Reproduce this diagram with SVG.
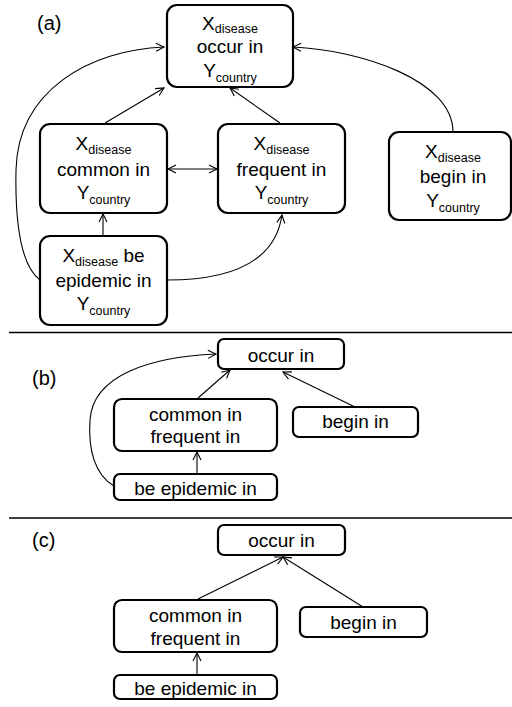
<svg xmlns="http://www.w3.org/2000/svg" width="512" height="707" viewBox="0 0 512 707">
<style>
text{font-family:"Liberation Sans",Arial,sans-serif;font-size:19px;fill:#000}
.sub{font-size:12.5px}
.lbl{font-size:20px}
.box{fill:#fff;stroke:#000;stroke-width:2.2}
.c{fill:none;stroke:#000;stroke-width:1.1}
.sep{stroke:#000;stroke-width:1.3}
</style>
<defs>
<marker id="ah" markerUnits="userSpaceOnUse" markerWidth="12" markerHeight="12" refX="9" refY="5" orient="auto-start-reverse" viewBox="0 0 12 10">
<path d="M1,1 L9,5 L1,9" fill="none" stroke="#000" stroke-width="1.1"/>
</marker>
</defs>
<rect width="512" height="707" fill="#fff"/>
<text class="lbl" x="37" y="30">(a)</text>
<text class="lbl" x="32" y="385">(b)</text>
<text class="lbl" x="32" y="547">(c)</text>
<g id="separators">
<line class="sep" x1="9" y1="332.5" x2="512" y2="332.5"/>
<line class="sep" x1="9" y1="518" x2="512" y2="518"/>
</g>
<g id="connectors">
<path class="c" d="M105,123 L164,88" marker-end="url(#ah)"/>
<path class="c" d="M280,123 L230,88" marker-end="url(#ah)"/>
<path class="c" d="M168,169 L217,169" marker-start="url(#ah)" marker-end="url(#ah)"/>
<path class="c" d="M103,236 L103,214" marker-end="url(#ah)"/>
<path class="c" d="M167,280 C230,280 275,262 282,215" marker-end="url(#ah)"/>
<path class="c" d="M40,280 C20,265 15,220 16,170 C18,90 90,50 164,47" marker-end="url(#ah)"/>
<path class="c" d="M453,132 C453,80 360,50 293,47" marker-end="url(#ah)"/>
<path class="c" d="M198,398 L230,370" marker-end="url(#ah)"/>
<path class="c" d="M355,407 L283,372" marker-end="url(#ah)"/>
<path class="c" d="M197,474 L197,452" marker-end="url(#ah)"/>
<path class="c" d="M114,486 C95,475 88,450 90,420 C93,375 150,357 216,354" marker-end="url(#ah)"/>
<path class="c" d="M198,599 L283,557" marker-end="url(#ah)"/>
<path class="c" d="M363,607 L283,557" marker-end="url(#ah)"/>
<path class="c" d="M197,675 L197,653" marker-end="url(#ah)"/>
</g>
<g id="a-occur">
<rect class="box" x="167" y="5" width="126" height="82" rx="10"/>
<text x="230" y="30" text-anchor="middle">X<tspan class="sub" dy="3">disease</tspan></text>
<text x="230" y="53" text-anchor="middle">occur in</text>
<text x="230" y="77" text-anchor="middle">Y<tspan class="sub" dy="5">country</tspan></text>
</g>
<g id="a-common">
<rect class="box" x="40" y="124" width="127" height="89" rx="10"/>
<text x="103.5" y="150" text-anchor="middle">X<tspan class="sub" dy="4">disease</tspan></text>
<text x="103.5" y="176" text-anchor="middle">common in</text>
<text x="103.5" y="199" text-anchor="middle">Y<tspan class="sub" dy="5">country</tspan></text>
</g>
<g id="a-frequent">
<rect class="box" x="218" y="124" width="127" height="89" rx="10"/>
<text x="281.5" y="150" text-anchor="middle">X<tspan class="sub" dy="4">disease</tspan></text>
<text x="281.5" y="176" text-anchor="middle">frequent in</text>
<text x="281.5" y="199" text-anchor="middle">Y<tspan class="sub" dy="5">country</tspan></text>
</g>
<g id="a-begin">
<rect class="box" x="389" y="132" width="122" height="88" rx="10"/>
<text x="453" y="158" text-anchor="middle">X<tspan class="sub" dy="4">disease</tspan></text>
<text x="453" y="183" text-anchor="middle">begin in</text>
<text x="453" y="207" text-anchor="middle">Y<tspan class="sub" dy="5">country</tspan></text>
</g>
<g id="a-epidemic">
<rect class="box" x="40" y="236" width="127" height="89" rx="10"/>
<text x="103.5" y="262" text-anchor="middle">X<tspan class="sub" dy="4">disease</tspan><tspan dy="-4"> be</tspan></text>
<text x="103.5" y="287" text-anchor="middle">epidemic in</text>
<text x="103.5" y="310" text-anchor="middle">Y<tspan class="sub" dy="5">country</tspan></text>
</g>
<g id="b-occur">
<rect class="box" x="218" y="339" width="126" height="30" rx="6"/>
<text x="281" y="362" text-anchor="middle">occur in</text>
</g>
<g id="b-common">
<rect class="box" x="114" y="399" width="163" height="52" rx="8"/>
<text x="195.5" y="421" text-anchor="middle">common in</text>
<text x="195.5" y="443" text-anchor="middle">frequent in</text>
</g>
<g id="b-begin">
<rect class="box" x="293" y="407" width="125" height="30" rx="6"/>
<text x="355.5" y="428" text-anchor="middle">begin in</text>
</g>
<g id="b-epidemic">
<rect class="box" x="114" y="474" width="163" height="26" rx="6"/>
<text x="195.5" y="495" text-anchor="middle">be epidemic in</text>
</g>
<g id="c-occur">
<rect class="box" x="218" y="525" width="127" height="30" rx="6"/>
<text x="281.5" y="547" text-anchor="middle">occur in</text>
</g>
<g id="c-common">
<rect class="box" x="114" y="600" width="163" height="52" rx="8"/>
<text x="195.5" y="622" text-anchor="middle">common in</text>
<text x="195.5" y="645" text-anchor="middle">frequent in</text>
</g>
<g id="c-begin">
<rect class="box" x="300" y="607" width="127" height="30" rx="6"/>
<text x="363.5" y="629" text-anchor="middle">begin in</text>
</g>
<g id="c-epidemic">
<rect class="box" x="114" y="675" width="163" height="24" rx="6"/>
<text x="195.5" y="695" text-anchor="middle">be epidemic in</text>
</g>
</svg>
